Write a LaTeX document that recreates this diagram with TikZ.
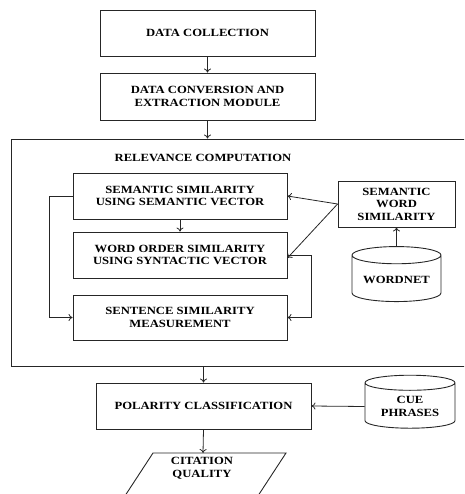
\documentclass[tikz,border=0pt]{standalone}
\usepackage{fontspec}
\setmainfont{Liberation Serif}[FakeStretch=1.15]
\usetikzlibrary{shapes.geometric,arrows.meta}
\tikzset{
  box/.style={draw=black!85, line width=0.9pt, rectangle, align=center, inner sep=1pt, font=\fontsize{11}{12.5}\selectfont\bfseries},
  db/.style={draw=black!85, line width=0.9pt, cylinder, shape border rotate=90, aspect=0.25, align=center, inner sep=1pt, font=\fontsize{11}{12.5}\selectfont\bfseries},
  arr/.style={draw=black!85, line width=0.8pt, -{To[length=4pt,width=7pt]}},
  ln/.style={draw=black!85, line width=0.8pt}
}
\begin{document}
\begin{tikzpicture}[x=1pt,y=-1pt]
\useasboundingbox (0,0) rectangle (464,494);
\clip (0,0) rectangle (464,494);
\node[box, minimum width=215pt, minimum height=46pt] (dc) at (207.5,33) {DATA COLLECTION};
\node[box, minimum width=215pt, minimum height=47pt] (dcem) at (207.5,96.5) {DATA CONVERSION AND\\EXTRACTION MODULE};
\node[draw=black!85, line width=0.9pt, rectangle, minimum width=459pt, minimum height=227pt, inner sep=0pt] (outer) at (240.5,252.5) {};
\node[font=\fontsize{11}{12.5}\selectfont\bfseries, inner sep=0pt] (rc) at (203,158) {RELEVANCE COMPUTATION};
\node[box, minimum width=214pt, minimum height=46pt] (ss) at (180,196) {SEMANTIC SIMILARITY\\USING SEMANTIC VECTOR};
\node[box, minimum width=214pt, minimum height=46pt] (wo) at (180,255) {WORD ORDER SIMILARITY\\USING SYNTACTIC VECTOR};
\node[box, minimum width=214pt, minimum height=45pt] (sent) at (180,317.5) {SENTENCE SIMILARITY\\MEASUREMENT};
\node[box, minimum width=117pt, minimum height=46pt] (sws) at (396.5,204) {SEMANTIC\\WORD\\SIMILARITY};
\node[db, minimum width=89pt, minimum height=55pt] (wn) at (396.5,279.5) {WORDNET};
\node[box, minimum width=215pt, minimum height=46pt] (pol) at (203.5,406) {POLARITY CLASSIFICATION};
\node[db, minimum width=90pt, minimum height=53pt] (cue) at (410,406.5) {CUE\\PHRASES};
\coordinate (p1) at (153,453);
\coordinate (p2) at (286,453);
\coordinate (p3) at (252,505);
\coordinate (p4) at (119,505);
\draw[ln, line width=0.9pt] (p1) -- (p2) -- (p3) -- (p4) -- cycle;
\node[font=\fontsize{11}{12.5}\selectfont\bfseries, align=center, inner sep=0pt] (cit) at (202,468) {CITATION\\QUALITY};
\coordinate (citTop) at (203,453);
\draw[arr] (dc.south) -- (dcem.north);
\draw[arr] (dcem.south) -- (dcem.south |- outer.north);
\draw[arr] (ss.south) -- (wo.north);
\draw[arr] (sws.west) -- (ss.east);
\draw[arr] (sws.west) -- ([yshift=-3pt]wo.east);
\draw[arr] (wn.top) -- (sws.south);
\draw[arr] (ss.west) -- ++(-23,0) |- (sent.west);
\draw[arr] (wo.east) -- ++(24,0) |- (sent.east);
\draw[arr] (pol.north |- outer.south) -- (pol.north);
\draw[arr] (cue.west) -- (pol.east);
\draw[arr] (pol.south) -- (citTop);
\end{tikzpicture}
\end{document}
